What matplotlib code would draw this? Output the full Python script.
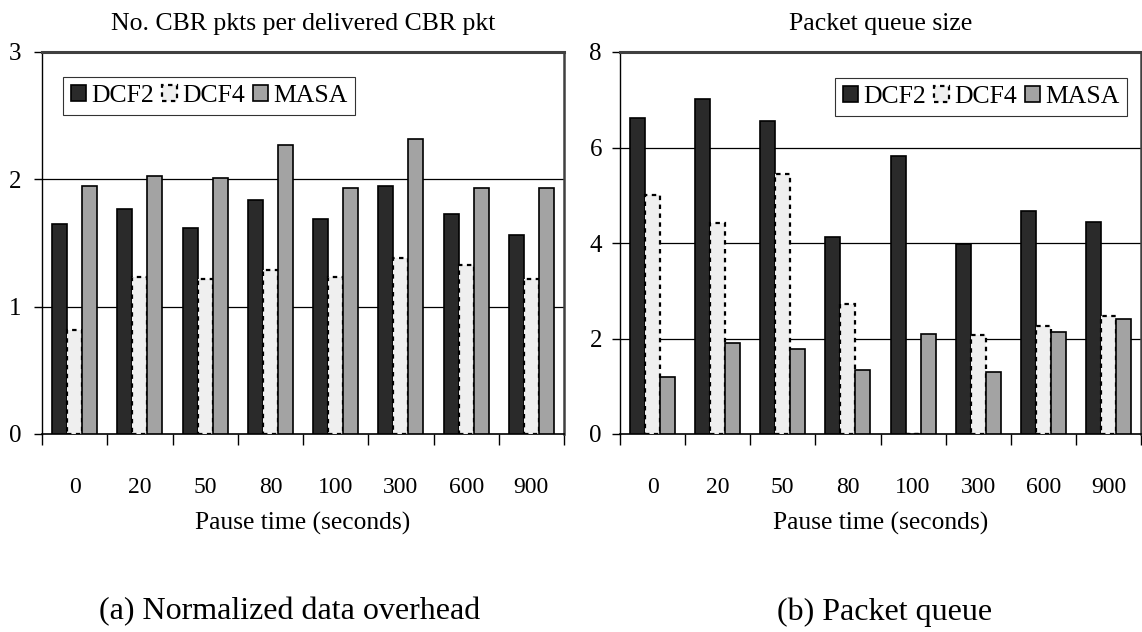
import numpy as np
import matplotlib
matplotlib.use("Agg")
import matplotlib.pyplot as plt

plt.rcParams['font.family'] = ['Liberation Serif', 'DejaVu Serif']

pause_times = ["0", "20", "50", "80", "100", "300", "600", "900"]
series = ["DCF2", "DCF4", "MASA"]

# normalized data overhead (CBR pkts per delivered CBR pkt)
overhead_dcf2 = [1.65, 1.77, 1.62, 1.84, 1.69, 1.95, 1.73, 1.56]
overhead_dcf4 = [0.82, 1.23, 1.22, 1.29, 1.23, 1.38, 1.33, 1.22]
overhead_masa = [1.95, 2.03, 2.01, 2.27, 1.93, 2.32, 1.93, 1.93]

# packet queue size
queue_dcf2 = [6.61, 7.01, 6.56, 4.13, 5.82, 3.98, 4.67, 4.43]
queue_dcf4 = [5.00, 4.41, 5.45, 2.73, 0.0, 2.07, 2.27, 2.48]
queue_masa = [1.20, 1.90, 1.79, 1.35, 2.09, 1.30, 2.14, 2.40]

W, H = 1142, 632
fig = plt.figure(figsize=(W / 100, H / 100), dpi=100)

styles = [
    dict(color="#2a2a2a", edgecolor="black", linewidth=1.2),
    dict(color="#efefef", edgecolor="black", linewidth=1.6, linestyle=(0, (2, 2))),
    dict(color="#a3a3a3", edgecolor="black", linewidth=1.2),
]


def panel(rect, data, ymax, ystep, title, leg_anchor, ypad):
    ax = fig.add_axes(rect)
    x = np.arange(len(pause_times))
    bw = 0.23
    for k, (vals, st) in enumerate(zip(data, styles)):
        ax.bar(x + (k - 1) * bw, vals, bw, label=series[k], zorder=3, **st)
    ax.set_xlim(-0.5, len(pause_times) - 0.5)
    ax.set_ylim(0, ymax)
    yt = np.arange(0, ymax + 0.01, ystep)
    ax.set_yticks(yt)
    ax.set_yticklabels([f"{v:g}" for v in yt])
    for v in yt[1:-1]:
        ax.axhline(v, color="black", lw=0.9, zorder=1)
    ax.set_xticks(x)
    ax.set_xticklabels(pause_times)
    ax.set_xticks(np.arange(-0.5, len(pause_times)), minor=True)
    ax.tick_params(axis="x", which="major", length=0, pad=31, labelsize=17)
    ax.tick_params(axis="x", which="minor", length=8, width=1, direction="out")
    ax.tick_params(axis="y", length=6, width=1, direction="out", pad=ypad, labelsize=18)
    ax.spines["top"].set_linewidth(2.2)
    ax.spines["top"].set_color("#404040")
    ax.spines["right"].set_linewidth(1.8)
    ax.spines["right"].set_color("#404040")
    ax.spines["left"].set_linewidth(1.0)
    ax.spines["bottom"].set_linewidth(1.2)
    ax.set_xlabel("Pause time (seconds)", fontsize=18.4, labelpad=10)
    ax.set_title(title, fontsize=18.5, pad=16)
    leg = ax.legend(loc="upper left", bbox_to_anchor=leg_anchor, ncol=3, fontsize=18.5,
                    frameon=True, fancybox=False, edgecolor="black",
                    handlelength=0.6, handleheight=0.6, handletextpad=0.2,
                    columnspacing=0.3, borderpad=0.3, borderaxespad=0)
    leg.get_frame().set_linewidth(0.8)
    leg.set_zorder(5)
    return ax


axh = (434 - 52) / H
panel([42 / W, (H - 434) / H, (564 - 42) / W, axh],
      [overhead_dcf2, overhead_dcf4, overhead_masa], 3, 1,
      "No. CBR pkts per delivered CBR pkt", ((63 - 42) / 522, (434 - 77) / 382), 9)
panel([620 / W, (H - 434) / H, (1141 - 620) / W, axh],
      [queue_dcf2, queue_dcf4, queue_masa], 8, 2,
      "Packet queue size", ((835 - 620) / 521, (434 - 78) / 382), 7)

fig.text(290 / W, 1 - 612 / H, "(a) Normalized data overhead", fontsize=23,
         ha="center", va="center")
fig.text(885 / W, 1 - 612 / H, "(b) Packet queue", fontsize=23,
         ha="center", va="center")

fig.savefig("out.png", dpi=100)
